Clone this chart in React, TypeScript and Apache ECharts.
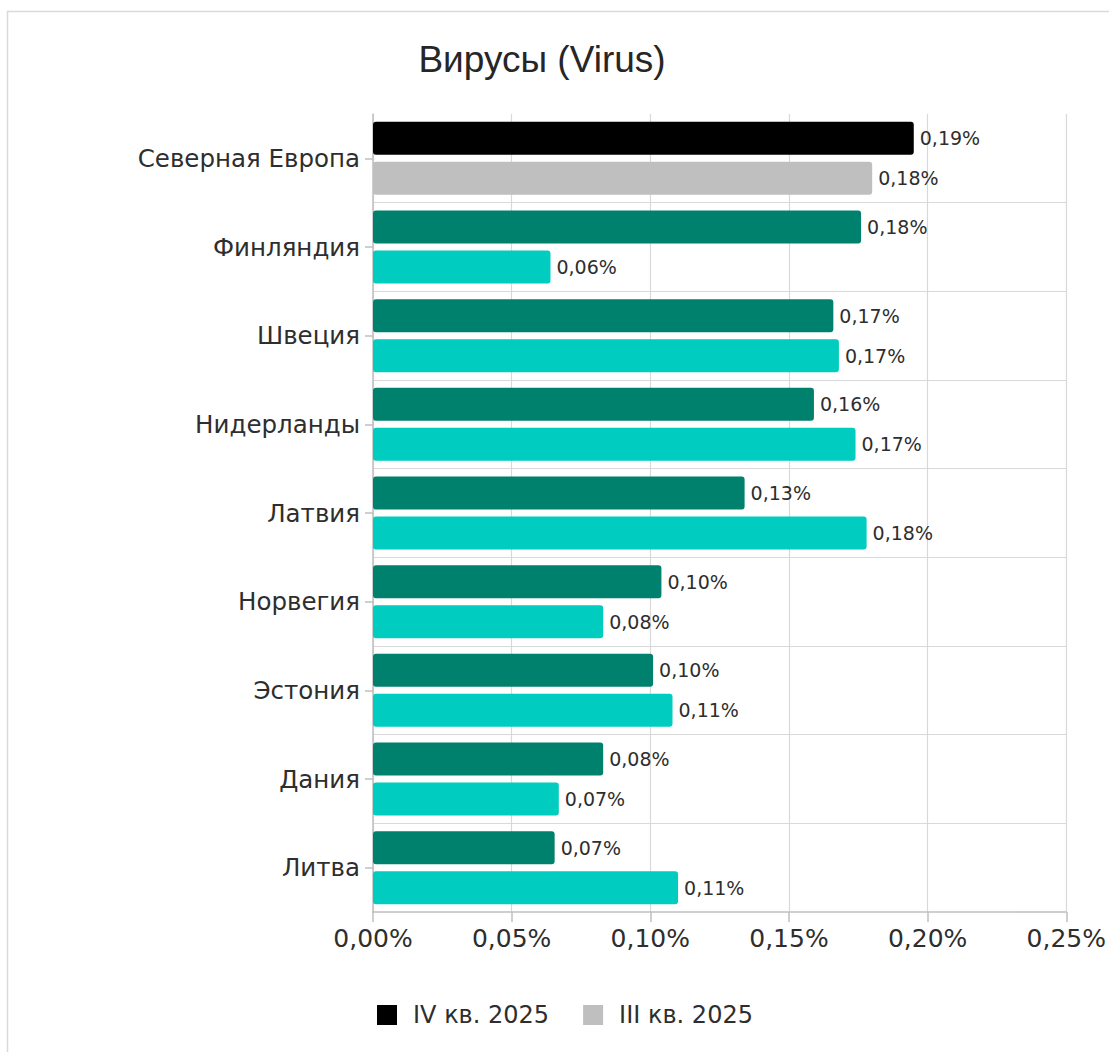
import React, { useEffect, useRef } from "react";
import * as echarts from "echarts";

const categories = [
  "Северная Европа",
  "Финляндия",
  "Швеция",
  "Нидерланды",
  "Латвия",
  "Норвегия",
  "Эстония",
  "Дания",
  "Литва",
];
const seriesNames = ["IV кв. 2025", "III кв. 2025"];
const q4Values = [0.195, 0.176, 0.166, 0.159, 0.134, 0.104, 0.101, 0.083, 0.0655];
const q3Values = [0.18, 0.064, 0.168, 0.174, 0.178, 0.083, 0.108, 0.067, 0.11];
const xTicks = [0, 0.05, 0.1, 0.15, 0.2, 0.25];
const titleText = "Вирусы (Virus)";

const FONT = "'DejaVu Sans', 'Open Sans', sans-serif";
const TEXT = "#2e2e2e";

function fmt(v: number, digits: number) {
  return v.toFixed(digits).replace(".", ",") + "%";
}
function fmtLabel(v: number) {
  // round half down to match source labels (e.g. 0.195 -> 0,19)
  const r = Math.round(v * 100 - 0.0001) / 100;
  return fmt(r, 2);
}

export default function App() {
  const ref = useRef<HTMLDivElement>(null);
  useEffect(() => {
    if (!ref.current) return;
    const chart = echarts.init(ref.current, null, { renderer: "svg" });
    const mk = (vals: number[], first: string, rest: string) =>
      vals.map((v, i) => ({ value: v, itemStyle: { color: i === 0 ? first : rest } }));
    const labelCfg = {
      show: true,
      position: "right",
      distance: 6,
      fontFamily: FONT,
      fontSize: 19,
      color: TEXT,
      formatter: (p: any) => fmtLabel(p.value),
    };
    chart.setOption({
      animation: false,
      backgroundColor: "#ffffff",
      title: {
        text: titleText,
        left: 537,
        top: 36,
        textAlign: "center",
        textStyle: {
          fontFamily: "'Liberation Sans', Arial, sans-serif",
          fontSize: 37,
          fontWeight: "normal",
          color: "#262626",
        },
      },
      graphic: [
        {
          type: "rect",
          shape: { x: 7.5, y: 11.5, width: 1300, height: 1300 },
          style: { fill: "none", stroke: "#d9d9d9", lineWidth: 1.5 },
          silent: true,
        },
      ],
      legend: {
        left: 372,
        top: 998,
        itemWidth: 20,
        itemHeight: 20,
        itemGap: 34,
        icon: "rect",
        data: seriesNames,
        textStyle: {
          fontFamily: FONT,
          fontSize: 24,
          color: TEXT,
          padding: [0, 0, 0, 11],
        },
      },
      grid: { left: 373, right: 41, top: 114, bottom: 140, containLabel: false },
      xAxis: {
        type: "value",
        min: 0,
        max: 0.25,
        interval: 0.05,
        axisLine: { show: true, lineStyle: { color: "#bfbfbf", width: 1.5 } },
        axisTick: { show: true, length: 10, lineStyle: { color: "#bfbfbf", width: 1.5 } },
        splitLine: { show: true, lineStyle: { color: "#d9d9d9", width: 1.2 } },
        axisLabel: {
          margin: 14,
          fontFamily: FONT,
          fontSize: 25,
          color: TEXT,
          formatter: (v: number) => fmt(v, 2),
          customValues: xTicks,
        },
      },
      yAxis: {
        type: "category",
        data: categories,
        inverse: true,
        axisLine: { show: true, lineStyle: { color: "#bfbfbf", width: 1.5 } },
        axisTick: { show: true, alignWithLabel: true, length: 8, lineStyle: { color: "#bfbfbf", width: 1.5 } },
        splitLine: {
          show: true,
          showMinLine: false,
          showMaxLine: false,
          lineStyle: { color: "#d9d9d9", width: 1.2 },
        },
        axisLabel: {
          margin: 13,
          fontFamily: FONT,
          fontSize: 24.5,
          color: TEXT,
        },
      },
      series: [
        {
          name: seriesNames[0],
          type: "bar",
          data: mk(q4Values, "#000000", "#00816E"),
          itemStyle: { color: "#000000", borderRadius: 3 },
          barWidth: 33,
          barGap: "21%",
          label: labelCfg,
        },
        {
          name: seriesNames[1],
          type: "bar",
          data: mk(q3Values, "#BFBFBF", "#00CCC0"),
          itemStyle: { color: "#BFBFBF", borderRadius: 3 },
          barWidth: 33,
          barGap: "21%",
          label: labelCfg,
        },
      ],
    });
    return () => chart.dispose();
  }, []);
  return (
    <div
      ref={ref}
      style={{ position: "fixed", left: 0, top: 0, width: 1109, height: 1052 }}
    />
  );
}
